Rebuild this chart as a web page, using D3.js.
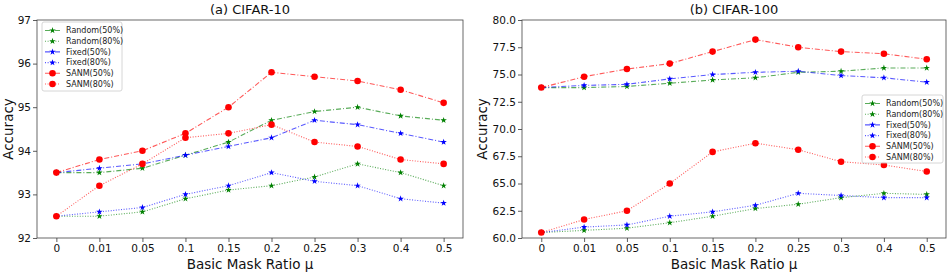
<!DOCTYPE html>
<html><head><meta charset="utf-8">
<script src="https://cdn.jsdelivr.net/npm/d3@7"></script>
<style>
body{margin:0;background:#fff;}
svg{display:block;font-family:"DejaVu Sans",sans-serif;}
</style></head>
<body><svg id="c" width="951" height="273"></svg>
<script>
const categories = ["0","0.01","0.05","0.1","0.15","0.2","0.25","0.3","0.4","0.5"];
const seriesNames = ["Random(50%)","Random(80%)","Fixed(50%)","Fixed(80%)","SANM(50%)","SANM(80%)"];
// CIFAR-10
const c10Random50 = [93.5,93.5,93.6,93.9,94.2,94.7,94.9,95.0,94.8,94.7];
const c10Random80 = [92.5,92.5,92.6,92.9,93.1,93.2,93.4,93.7,93.5,93.2];
const c10Fixed50  = [93.5,93.6,93.7,93.9,94.1,94.3,94.7,94.6,94.4,94.2];
const c10Fixed80  = [92.5,92.6,92.7,93.0,93.2,93.5,93.3,93.2,92.9,92.8];
const c10SANM50   = [93.5,93.8,94.0,94.4,95.0,95.8,95.7,95.6,95.4,95.1];
const c10SANM80   = [92.5,93.2,93.7,94.3,94.4,94.6,94.2,94.1,93.8,93.7];
// CIFAR-100
const c100Random50 = [73.8,73.8,73.9,74.2,74.5,74.7,75.2,75.3,75.6,75.6];
const c100Random80 = [60.5,60.7,60.9,61.4,62.0,62.7,63.1,63.7,64.1,64.0];
const c100Fixed50  = [73.8,74.0,74.1,74.6,75.0,75.2,75.3,74.9,74.7,74.3];
const c100Fixed80  = [60.5,61.0,61.2,62.0,62.4,63.0,64.1,63.9,63.7,63.7];
const c100SANM50   = [73.8,74.8,75.5,76.0,77.1,78.2,77.5,77.1,76.9,76.4];
const c100SANM80   = [60.5,61.7,62.5,65.0,67.9,68.7,68.1,67.0,66.7,66.1];
const c10Ticks  = [92,93,94,95,96,97];
const c100Ticks = [60,62.5,65,67.5,70,72.5,75,77.5,80];

const styles = [
  {color:"green", dash:"5,2,1,2", marker:"star"},
  {color:"green", dash:"1,1.6", marker:"star"},
  {color:"blue",  dash:"5,2,1,2", marker:"star"},
  {color:"blue",  dash:"1,1.6", marker:"star"},
  {color:"red",   dash:"5,2,1,2", marker:"circle"},
  {color:"red",   dash:"1,1.6", marker:"circle"}
];

const svg = d3.select("#c");
const starSym = d3.symbol().type(d3.symbolStar).size(13);
const circSym = d3.symbol().type(d3.symbolCircle).size(34);

function panel(opt){
  const {x0,x1,y0,y1,domain,ticks,fmt,data,title,legend} = opt;
  const g = svg.append("g");
  const x = d3.scalePoint().domain(categories).range([x0,x1]).padding(0.45);
  const y = d3.scaleLinear().domain(domain).range([y1,y0]);
  const ya = g.append("g").attr("transform",`translate(${x0},0)`)
    .call(d3.axisLeft(y).tickValues(ticks).tickFormat(fmt).tickSize(4).tickPadding(2));
  const xa = g.append("g").attr("transform",`translate(0,${y1})`)
    .call(d3.axisBottom(x).tickSize(4).tickPadding(3));
  [ya,xa].forEach(a=>{
    a.select(".domain").remove();
    a.selectAll("line").attr("stroke","#333").attr("stroke-width",0.8);
    a.selectAll("text").attr("font-size","10.5px").attr("fill","#111").attr("font-family","DejaVu Sans");
  });
  g.append("rect").attr("x",x0).attr("y",y0).attr("width",x1-x0).attr("height",y1-y0)
    .attr("fill","none").attr("stroke","#444").attr("stroke-width",0.8);
  data.forEach((vals,i)=>{
    const s = styles[i];
    const line = d3.line().x((d,j)=>x(categories[j])).y(d=>y(d));
    g.append("path").datum(vals).attr("d",line).attr("fill","none")
      .attr("stroke",s.color).attr("stroke-width",1.1).attr("stroke-opacity",0.65)
      .attr("stroke-dasharray",s.dash);
    g.selectAll(null).data(vals).enter().append("path")
      .attr("transform",(d,j)=>`translate(${x(categories[j])},${y(d)})`)
      .attr("d", s.marker==="star"?starSym:circSym).attr("fill",s.color);
  });
  g.append("text").attr("x",(x0+x1)/2).attr("y",y0-6).attr("text-anchor","middle")
    .attr("font-size","13px").attr("fill","#111").text(title);
  g.append("text").attr("x",(x0+x1)/2).attr("y",y1+31).attr("text-anchor","middle")
    .attr("font-size","13.5px").attr("fill","#111").text("Basic Mask Ratio μ");
  g.append("text").attr("transform",`translate(${opt.ylabX},${(y0+y1)/2}) rotate(-90)`)
    .attr("text-anchor","middle").attr("font-size","13.5px").attr("fill","#111").text("Accuracy");
  const L = legend;
  const lg = g.append("g");
  lg.append("rect").attr("x",L.x).attr("y",L.y).attr("width",L.w).attr("height",L.h)
    .attr("rx",2).attr("fill","#fff").attr("fill-opacity",0.85).attr("stroke","#ccc").attr("stroke-width",0.8);
  seriesNames.forEach((n,i)=>{
    const s = styles[i];
    const yy = L.y + 8.5 + i*10.7;
    lg.append("line").attr("x1",L.x+3).attr("x2",L.x+18).attr("y1",yy).attr("y2",yy)
      .attr("stroke",s.color).attr("stroke-width",1.1).attr("stroke-opacity",0.65).attr("stroke-dasharray",s.dash);
    lg.append("path").attr("transform",`translate(${L.x+10.5},${yy})`)
      .attr("d", s.marker==="star"?starSym:circSym).attr("fill",s.color);
    lg.append("text").attr("x",L.x+24).attr("y",yy).attr("dy","0.35em")
      .attr("font-size","8px").attr("fill","#222").text(n);
  });
}

panel({x0:37,x1:463,y0:20,y1:238,domain:[92,97],ticks:c10Ticks,fmt:d3.format("d"),
  data:[c10Random50,c10Random80,c10Fixed50,c10Fixed80,c10SANM50,c10SANM80],
  title:"(a) CIFAR-10", ylabX:13, legend:{x:42,y:22,w:80,h:69}});
panel({x0:522,x1:946,y0:20,y1:238,domain:[60,80],ticks:c100Ticks,fmt:d3.format(".1f"),
  data:[c100Random50,c100Random80,c100Fixed50,c100Fixed80,c100SANM50,c100SANM80],
  title:"(b) CIFAR-100", ylabX:487, legend:{x:862,y:95,w:81,h:68}});
</script></body></html>
